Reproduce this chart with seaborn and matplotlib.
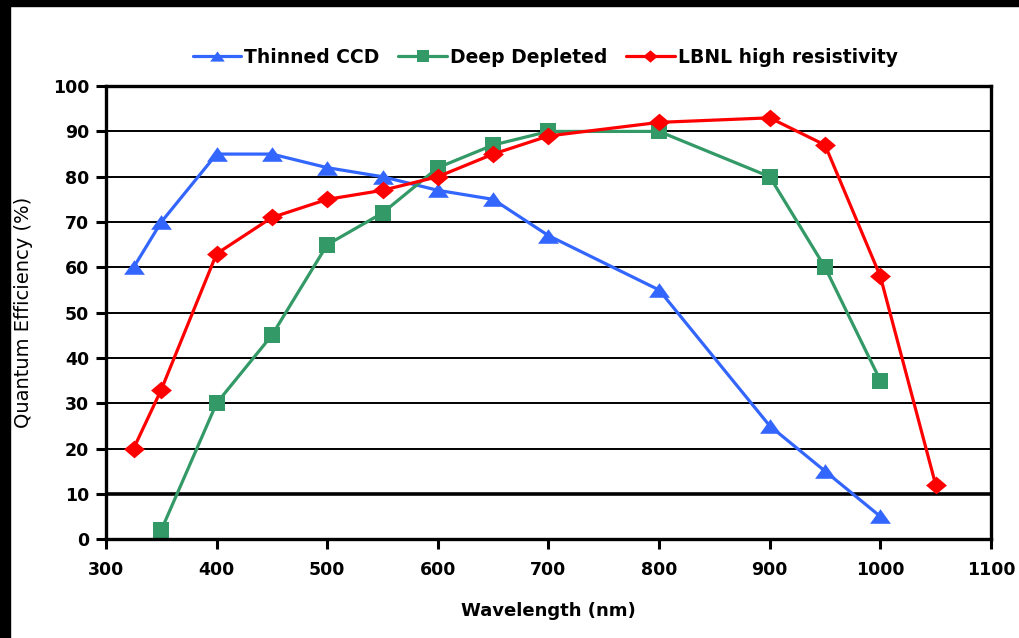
import matplotlib
matplotlib.use("Agg")
import matplotlib.pyplot as plt
import seaborn as sns
import pandas as pd
from matplotlib.patches import Rectangle

# Data
thinned_x = [325, 350, 400, 450, 500, 550, 600, 650, 700, 800, 900, 950, 1000]
thinned_y = [60, 70, 85, 85, 82, 80, 77, 75, 67, 55, 25, 15, 5]
deep_x = [350, 400, 450, 500, 550, 600, 650, 700, 800, 900, 950, 1000]
deep_y = [2, 30, 45, 65, 72, 82, 87, 90, 90, 80, 60, 35]
lbnl_x = [325, 350, 400, 450, 500, 550, 600, 650, 700, 800, 900, 950, 1000, 1050]
lbnl_y = [20, 33, 63, 71, 75, 77, 80, 85, 89, 92, 93, 87, 58, 12]
series_names = ["Thinned CCD", "Deep Depleted", "LBNL high resistivity"]
x_ticks = [300, 400, 500, 600, 700, 800, 900, 1000, 1100]
y_ticks = [0, 10, 20, 30, 40, 50, 60, 70, 80, 90, 100]

df = pd.concat([
    pd.DataFrame({"x": thinned_x, "y": thinned_y, "s": series_names[0]}),
    pd.DataFrame({"x": deep_x, "y": deep_y, "s": series_names[1]}),
    pd.DataFrame({"x": lbnl_x, "y": lbnl_y, "s": series_names[2]}),
])

sns.set_style("white")
plt.rcParams['font.family'] = ['DejaVu Sans']
plt.rcParams['text.color'] = 'black'
plt.rcParams['axes.labelcolor'] = 'black'
plt.rcParams['xtick.color'] = 'black'
plt.rcParams['ytick.color'] = 'black'

fig = plt.figure(figsize=(10.19, 6.38), dpi=100)
ax = fig.add_axes([0.104, 0.155, 0.8685, 0.71])

colors = {series_names[0]: "#3366FF", series_names[1]: "#339966", series_names[2]: "#FF0000"}
tri = [(-1, -0.7), (1, -0.7), (0, 0.7)]
dia = [(-1, 0), (0, 0.85), (1, 0), (0, -0.85)]
markers = {series_names[0]: tri, series_names[1]: "s", series_names[2]: dia}
msizes = {series_names[0]: 15, series_names[1]: 11.5, series_names[2]: 15}

sns.lineplot(data=df, x="x", y="y", hue="s", style="s", palette=colors,
             markers=markers, dashes=False, linewidth=2.3, markersize=12,
             markeredgewidth=0, ax=ax, sort=False, legend=False)

for line, name in zip(ax.get_lines(), series_names):
    line.set_markersize(msizes[name])
    line.set_label(name)

ax.set_xlim(300, 1100)
ax.set_ylim(0, 100)
ax.set_xticks(x_ticks)
ax.set_yticks(y_ticks)
ax.set_xticklabels([str(v) for v in x_ticks], fontsize=12.5, fontweight="bold")
ax.set_yticklabels([str(v) for v in y_ticks], fontsize=12.5, fontweight="bold")
ax.tick_params(axis="x", direction="out", length=7, width=2.2, color="black", pad=9,
               bottom=True, labelcolor="black")
ax.tick_params(axis="y", direction="out", length=7, width=2.2, color="black", pad=5,
               left=True, labelcolor="black")
ax.set_xlabel("Wavelength (nm)", fontsize=13, fontweight="bold", labelpad=16, color="black")
ax.set_ylabel("Quantum Efficiency (%)", fontsize=14, labelpad=14, color="black")

for yv in y_ticks[1:-1]:
    ax.axhline(yv, color="black", lw=2.6 if yv == 10 else 1.4, zorder=0.5)
for sp in ax.spines.values():
    sp.set_color("black")
    sp.set_linewidth(2.4)
    sp.set_visible(True)

leg = ax.legend(loc="center", bbox_to_anchor=(0.535, 0.91),
                bbox_transform=fig.transFigure, ncol=3, frameon=False,
                fontsize=13.5, handlelength=2.6, columnspacing=1.0, handletextpad=0.15,
                markerscale=0.7)
for t in leg.get_texts():
    t.set_fontweight("bold")
    t.set_color("black")

# black frame strips at top and left
fig.patches.append(Rectangle((0, 1 - 6 / 638), 1, 6 / 638, transform=fig.transFigure,
                             color="black", zorder=10))
fig.patches.append(Rectangle((0, 0), 10 / 1019, 1, transform=fig.transFigure,
                             color="black", zorder=10))

fig.savefig("out.png", dpi=100)
